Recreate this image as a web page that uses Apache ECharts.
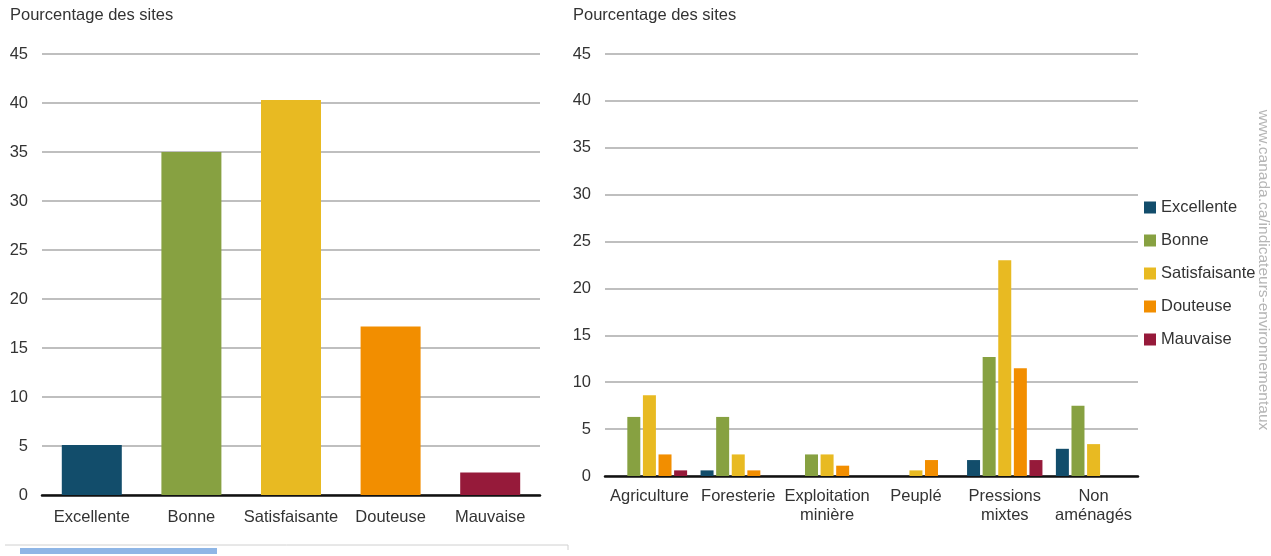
<!DOCTYPE html>
<html>
<head>
<meta charset="utf-8">
<script src="https://cdn.jsdelivr.net/npm/echarts@6/dist/echarts.min.js"></script>
<style>
  html, body { margin: 0; padding: 0; background: #fff; }
  #chart { width: 1271px; height: 556px; }
</style>
</head>
<body>
<div id="chart"></div>
<script>
// données
const qualityClasses = ['Excellente', 'Bonne', 'Satisfaisante', 'Douteuse', 'Mauvaise'];
const qualityColors = ['#124d6b', '#87a141', '#e8ba22', '#f28e00', '#961a3a'];
const overallPct = [5.1, 35.0, 40.3, 17.2, 2.3];

const pressures = ['Agriculture', 'Foresterie', 'Exploitation\nminière', 'Peuplé', 'Pressions\nmixtes', 'Non\naménagés'];
const excellente = [0, 0.6, 0, 0, 1.7, 2.9];
const bonne = [6.3, 6.3, 2.3, 0, 12.7, 7.5];
const satisfaisante = [8.6, 2.3, 2.3, 0.6, 23.0, 3.4];
const douteuse = [2.3, 0.6, 1.1, 1.7, 11.5, 0];
const mauvaise = [0.6, 0, 0, 0, 1.7, 0];

const yTicks = { min: 0, max: 45, interval: 5 };

const FONT = '"Liberation Sans", Arial, sans-serif';
const FS = 16.5;
const textColor = '#333';

const pressureSeries = [excellente, bonne, satisfaisante, douteuse, mauvaise].map((vals, i) => ({
  name: qualityClasses[i],
  type: 'bar',
  xAxisIndex: 1,
  yAxisIndex: 1,
  data: vals,
  barWidth: 13,
  barGap: '20%',
  itemStyle: { color: qualityColors[i] }
}));

function valueAxis(gridIndex) {
  return {
    type: 'value',
    gridIndex: gridIndex,
    min: yTicks.min,
    max: yTicks.max,
    interval: yTicks.interval,
    axisLine: { show: false },
    axisTick: { show: false },
    axisLabel: { color: textColor, fontSize: FS, fontFamily: FONT, margin: 14 },
    splitLine: { lineStyle: { color: '#aaa', width: 1.5 } }
  };
}

function categoryAxis(gridIndex, data, margin) {
  return {
    type: 'category',
    gridIndex: gridIndex,
    data: data,
    axisLine: { lineStyle: { color: '#111', width: 2.5 } },
    axisTick: { show: false },
    axisLabel: { color: textColor, fontSize: FS, fontFamily: FONT, margin: margin, lineHeight: 19, interval: 0 }
  };
}

const titleStyle = { fontSize: FS, fontWeight: 'normal', color: textColor, fontFamily: FONT };

const chart = echarts.init(document.getElementById('chart'));
chart.setOption({
  animation: false,
  textStyle: { fontFamily: FONT },
  title: [
    { text: 'Pourcentage des sites', left: 5, top: 2, textStyle: titleStyle },
    { text: 'Pourcentage des sites', left: 568, top: 2, textStyle: titleStyle }
  ],
  legend: {
    orient: 'vertical',
    left: 1139,
    top: 194,
    itemWidth: 12,
    itemHeight: 12,
    itemGap: 16,
    icon: 'rect',
    textStyle: { fontSize: FS, color: textColor, fontFamily: FONT },
    data: qualityClasses
  },
  grid: [
    { left: 42, right: 731, top: 54, bottom: 61 },
    { left: 605, right: 133, top: 54, bottom: 80 }
  ],
  xAxis: [
    categoryAxis(0, qualityClasses, 13),
    categoryAxis(1, pressures, 11)
  ],
  yAxis: [valueAxis(0), valueAxis(1)],
  series: [
    {
      type: 'bar',
      xAxisIndex: 0,
      yAxisIndex: 0,
      barWidth: 60,
      data: overallPct.map((v, i) => ({ value: v, itemStyle: { color: qualityColors[i] } }))
    }
  ].concat(pressureSeries),
  graphic: [
    {
      type: 'text',
      x: 1263,
      y: 270,
      rotation: -Math.PI / 2,
      style: {
        text: 'www.canada.ca/indicateurs-environnementaux',
        fill: '#b5b5b5',
        fontSize: 15.5,
        fontFamily: FONT,
        align: 'center',
        verticalAlign: 'middle'
      }
    },
    {
      type: 'polyline',
      shape: { points: [[5, 545], [568, 545], [568, 550]] },
      style: { stroke: '#d0d0d0', lineWidth: 1, fill: null }
    },
    {
      type: 'rect',
      shape: { x: 20, y: 548, width: 197, height: 6 },
      style: { fill: '#8fb6e6' }
    }
  ]
});
</script>
</body>
</html>
